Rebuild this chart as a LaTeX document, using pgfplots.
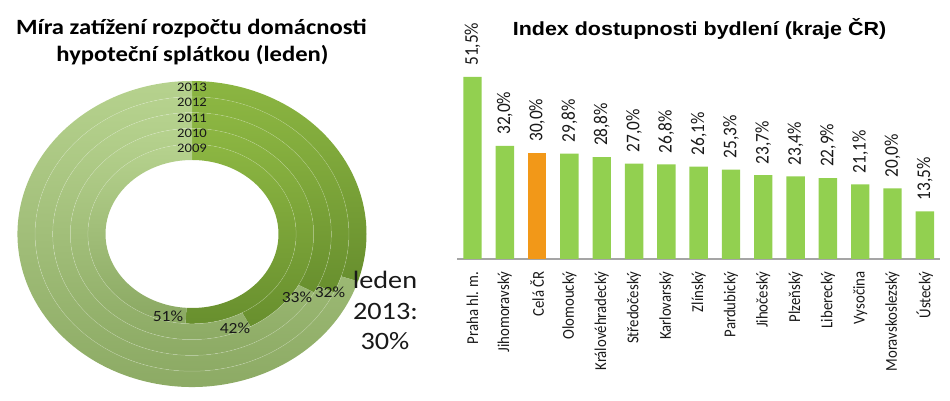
\documentclass[border=0pt]{standalone}
\usepackage{fontspec}
\usepackage{graphicx}
\usepackage{pgfplots}
\pgfplotsset{compat=1.18}
\usepackage{pgfplotstable}
\setmainfont{Carlito}
\newfontfamily\calst{Carlito}[FakeStretch=1.13]
\newfontfamily\arst{Liberation Sans}[FakeStretch=1.13]
\definecolor{barg}{RGB}{146,208,80}
\definecolor{baro}{RGB}{242,152,24}
\definecolor{dkA}{RGB}{140,182,66}
\definecolor{dkB}{RGB}{104,143,46}
\definecolor{ltA}{RGB}{182,210,142}
\definecolor{ltB}{RGB}{138,168,98}
\definecolor{axg}{RGB}{165,165,165}
\definecolor{txt}{RGB}{25,25,25}
\newcommand\st[1]{\scalebox{1}[1.12]{#1}}
\pgfdeclareplotmark{nothing}{}

% ring : value : show label : label dx : label dy : year label dy : year
\pgfplotstableread{
cx cy m
0 0 0:51:1:-24:-82:86:2009
0 0 1:42:1:43:-94:101:2010
0 0 2:33:1:105:-63:116:2011
0 0 3:32:1:138:-58:132:2012
0 0 4:30:0:0:0:147:2013
}\donut

\pgfplotstableread{
x y
0 51.5
1 32.0
3 29.8
4 28.8
5 27.0
6 26.8
7 26.1
8 25.3
9 23.7
10 23.4
11 22.9
12 21.1
13 20.0
14 13.5
}\kraje

\def\parsedonut#1:#2:#3:#4:#5:#6:#7\relax{\def\dring{#1}\def\dval{#2}\def\dlab{#3}\def\dlx{#4}\def\dly{#5}\def\dyy{#6}\def\dyr{#7}}

\begin{document}
\begin{tikzpicture}
\useasboundingbox (0,0) rectangle (950pt,401pt);

% ---------- titles ----------
\node[anchor=base, font=\calst\bfseries\fontsize{21.8}{24}\selectfont] at (191.5pt,366pt) {Míra zatížení rozpočtu domácnosti};
\node[anchor=base, font=\calst\bfseries\fontsize{21.8}{24}\selectfont] at (192.5pt,339pt) {hypoteční splátkou (leden)};
\node[anchor=base, font=\arst\bfseries\fontsize{19}{22}\selectfont] at (699.5pt,365pt) {Index dostupnosti bydlení (kraje ČR)};

% ---------- donut ----------
\begin{axis}[at={(192pt,167pt)}, anchor=origin, x=1pt, y=1pt,
  xmin=-180, xmax=180, ymin=-160, ymax=160, hide axis, clip=false]
\addplot[scatter, only marks, mark=nothing, draw=none, fill=none,
  mark options={draw=none,fill=none},
  point meta=explicit symbolic,
  scatter/@pre marker code/.code={%
    \expandafter\parsedonut\pgfplotspointmeta\relax
    \pgfmathsetmacro\drxi{86.5+17.6*\dring}%
    \pgfmathsetmacro\drxo{\drxi+17.6}%
    \pgfmathsetmacro\dryi{74+15.8*\dring}%
    \pgfmathsetmacro\dryo{\dryi+15.8}%
    \pgfmathsetmacro\de{90-3.6*\dval}%
    \pgfmathsetmacro\dxi{\drxi*cos(\de)}%
    \pgfmathsetmacro\dyi{\dryi*sin(\de)}%
    \pgfmathsetmacro\dxo{\drxo*cos(\de)}%
    \pgfmathsetmacro\dyo{\dryo*sin(\de)}%
    \shade[draw=none, top color=dkA, bottom color=dkB] (0pt,\dryo pt)
      arc[start angle=90, end angle=\de, x radius=\drxo pt, y radius=\dryo pt]
      -- (\dxi pt,\dyi pt)
      arc[start angle=\de, end angle=90, x radius=\drxi pt, y radius=\dryi pt] -- cycle;
    \shade[draw=none, top color=ltA, bottom color=ltB] (\dxo pt,\dyo pt)
      arc[start angle=\de, end angle=-270, x radius=\drxo pt, y radius=\dryo pt]
      -- (0pt,\dryi pt)
      arc[start angle=-270, end angle=\de, x radius=\drxi pt, y radius=\dryi pt] -- cycle;
    \ifnum\dring>0
      \path[draw=white, draw opacity=0.25, line width=0.5pt, fill=none] (0pt,0pt) ellipse[x radius=\drxi pt, y radius=\dryi pt];
    \fi
  },
  scatter/@post marker code/.code={}
] table[x=cx, y=cy, meta=m] {\donut};

\addplot[scatter, only marks, mark=nothing, draw=none, fill=none,
  mark options={draw=none,fill=none},
  point meta=explicit symbolic,
  scatter/@pre marker code/.code={%
    \expandafter\parsedonut\pgfplotspointmeta\relax
    \node[draw=none, fill=none, font=\calst\fontsize{13}{14}\selectfont, text=txt] at (0pt,\dyy pt) {\dyr};
    \ifnum\dlab>0
      \node[draw=none, fill=none, font=\calst\fontsize{15.5}{16}\selectfont, text=txt] at (\dlx pt,\dly pt) {\dval\%};
    \fi
  },
  scatter/@post marker code/.code={}
] table[x=cx, y=cy, meta=m] {\donut};
\end{axis}

\node[anchor=base, font=\calst\fontsize{25}{30}\selectfont, text=txt] at (385pt,112pt) {leden};
\node[anchor=base, font=\calst\fontsize{25}{30}\selectfont, text=txt] at (385.5pt,81pt) {2013:};
\node[anchor=base, font=\calst\fontsize{25}{30}\selectfont, text=txt] at (385pt,51pt) {30\%};

% ---------- bar chart ----------
\begin{axis}[at={(457pt,142pt)}, anchor=south west, scale only axis,
  width=483pt, height=212.1pt,
  xmin=-0.48, xmax=14.47, ymin=0, ymax=60,
  axis y line=none, axis x line*=bottom,
  x axis line style={-, draw=axg, line width=1.3pt},
  ytick=\empty,
  xtick={0,...,14},
  xticklabels={{\st{Praha hl. m.}},{\st{Jihomoravský}},{\st{Celá ČR}},{\st{Olomoucký}},{\st{Královéhradecký}},{\st{Středočeský}},{\st{Karlovarský}},{\st{Zlínský}},{\st{Pardubický}},{\st{Jihočeský}},{\st{Plzeňský}},{\st{Liberecký}},{\st{Vysočina}},{\st{Moravskoslezský}},{\st{Ústecký}}},
  xtick style={draw=none},
  xticklabel shift=8pt,
  xticklabel style={rotate=90, anchor=east, inner sep=0pt, font=\fontsize{14.8}{16}\selectfont, text=txt},
  ybar, bar width=18.4pt, clip=false,
  point meta=rawy,
  /pgf/number format/assume math mode=true,
  nodes near coords={\st{\pgfmathprintnumber[fixed,fixed zerofill,precision=1,use comma,assume math mode=true]{\pgfplotspointmeta}\%}},
  every node near coord/.append style={rotate=90, anchor=west, inner xsep=11pt, inner ysep=0pt, font=\fontsize{17.3}{18}\selectfont, text=txt},
]
\addplot[fill=barg, draw=none, bar shift=0pt] table[x=x, y=y] {\kraje};
\addplot[fill=baro, draw=none, bar shift=0pt] coordinates {(2,30.0)};
\end{axis}
\end{tikzpicture}
\end{document}
